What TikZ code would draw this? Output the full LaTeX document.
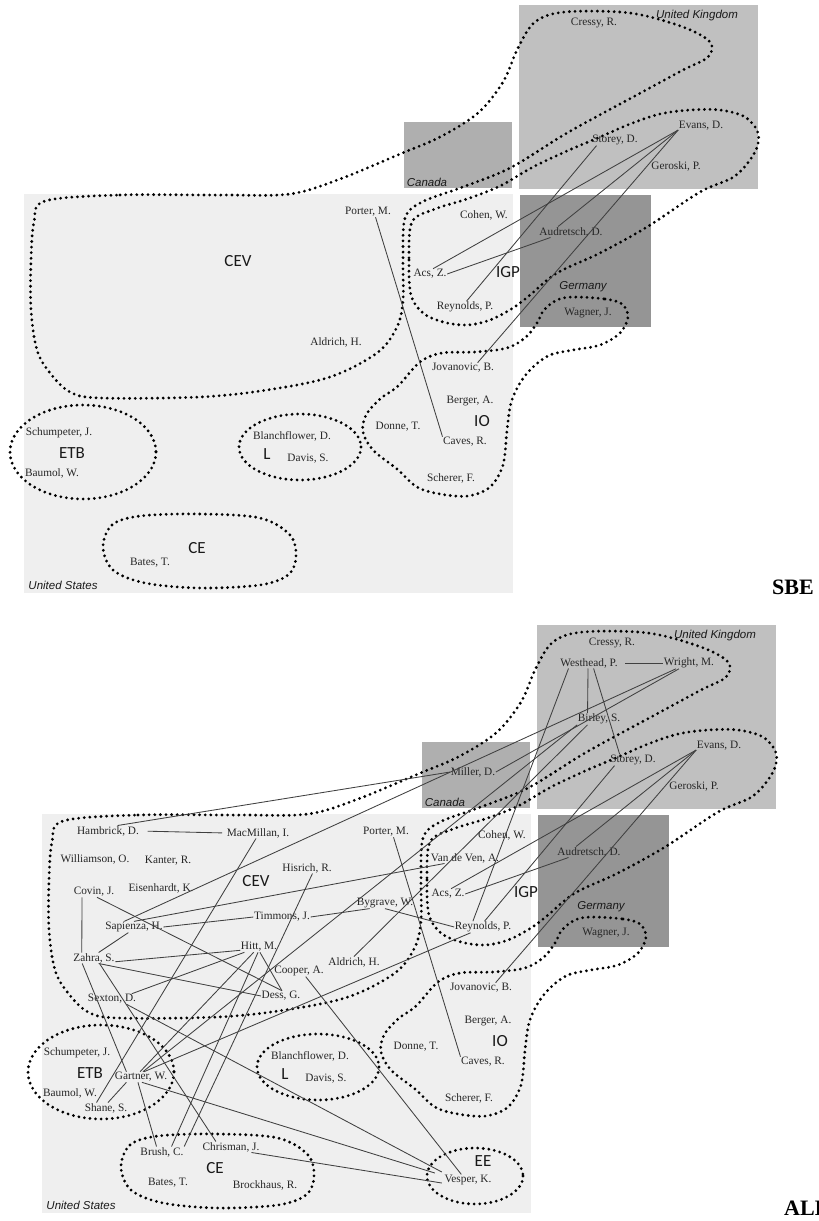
\documentclass[tikz,border=0pt]{standalone}
\usepackage{fontspec}
\setmainfont{Liberation Serif}
\newfontfamily\grpfont{Carlito}
\newfontfamily\ctryfont{Liberation Sans}
\usepackage{xcolor}
\usepackage{tikz}
\usetikzlibrary{calc}

\definecolor{usgray}{HTML}{EFEFEF}
\definecolor{cagray}{HTML}{AFAFAF}
\definecolor{ukgray}{HTML}{C0C0C0}
\definecolor{degray}{HTML}{959595}

\begin{document}
\begin{tikzpicture}[
  x=1pt, y=-1pt,
  author/.style={font=\fontsize{11.3}{12}\selectfont, inner sep=0.5pt, text=black!85},
  grp/.style={font=\grpfont\fontsize{17}{18}\selectfont, inner sep=0pt, text=black!90},
  country/.style={font=\ctryfont\itshape\fontsize{11.5}{12}\selectfont, inner sep=0pt, text=black!90},
  hull/.style={line width=3.1pt, line cap=round, dash pattern=on 0pt off 5.6pt},
  tie/.style={draw=black!75, line width=0.85pt},
  panel/.style={font=\bfseries\fontsize{22}{24}\selectfont, inner sep=0pt}
]
  \useasboundingbox (0,0) rectangle (819,1221);

  % both panels: map, clusters, shared authors and links
  \foreach \p/\dx/\dy in {s/0/0, a/18/620}{
  \begin{scope}[shift={(\dx,\dy)}]
    % countries
    \fill[usgray] (24,194) rectangle (513,593);
    \fill[cagray] (404,122) rectangle (512,188);
    \fill[ukgray] (519,5) rectangle (758,189);
    \fill[degray] (520,195) rectangle (651,327);
    \node[country] (\p-uk) at (697,16) {United Kingdom};
    \node[country] (\p-ca) at (427,182) {Canada};
    \node[country] (\p-de) at (583,287) {Germany};
    \node[country] (\p-us) at (63,585) {United States};

    % clusters
    \draw[hull] plot[smooth cycle, tension=0.55] coordinates {
      (45,201) (120,195) (220,195) (290,194) (340,179) (400,154) (440,137)
      (478,113) (503,82) (518,48) (535,22) (565,12) (630,13) (683,27)
      (710,42) (708,57) (683,70) (633,97) (567,133) (510,168) (460,188)
      (422,202) (405,218) (403,260) (403,300) (397,327) (377,353) (330,377)
      (267,390) (200,397) (100,398) (70,392) (50,373) (37,350) (31,310)
      (31,260) (34,222)};
    \draw[hull] plot[smooth cycle, tension=0.55] coordinates {
      (412,222) (409,260) (411,295) (423,313) (443,322) (467,325) (490,320)
      (513,308) (530,295) (557,273) (600,253) (647,227) (700,192) (735,176)
      (755,152) (758,133) (745,117) (720,110) (690,110) (660,114) (630,124)
      (600,137) (567,151) (533,167) (500,186) (467,199) (435,209)};
    \draw[hull] plot[smooth cycle, tension=0.55] coordinates {
      (573,297) (605,299) (622,304) (628,317) (620,333) (600,345) (573,350)
      (550,355) (533,367) (520,383) (511,403) (507,430) (503,465) (490,487)
      (468,496) (440,494) (417,487) (397,469) (373,450) (363,432) (366,415)
      (380,399) (398,386) (420,362) (442,353) (475,352) (507,348) (526,337)
      (537,323) (544,310) (557,300)};
    \draw[hull] (83,452) ellipse [x radius=73, y radius=47];
    \draw[hull] (300,447) ellipse [x radius=61, y radius=33];
    \draw[hull] plot[smooth cycle, tension=0.55] coordinates {
      (103,547) (112,525) (140,516) (200,514) (260,518) (290,535) (296,557)
      (288,575) (260,585) (200,588) (145,583) (113,570)};

    \node[grp] (\p-cev) at (238,261) {CEV};
    \node[grp] (\p-igp) at (508,272) {IGP};
    \node[grp] (\p-etb) at (72,453) {ETB};
    \node[grp] (\p-l) at (267,454) {L};
    \node[grp] (\p-ce) at (197,548) {CE};
    \node[grp] (\p-io) at (482,421) {IO};

    % authors
    \node[author] (\p-cressy) at (594,23) {Cressy, R.};
    \node[author] (\p-evans) at (701,126) {Evans, D.};
    \node[author] (\p-storey) at (615,140) {Storey, D.};
    \node[author] (\p-geroski) at (676,166) {Geroski, P.};
    \node[author] (\p-cohen) at (484,215) {Cohen, W.};
    \node[author] (\p-audretsch) at (571,232) {Audretsch, D.};
    \node[author] (\p-acs) at (430,274) {Acs, Z.};
    \node[author] (\p-porter) at (368,212) {Porter, M.};
    \node[author] (\p-reynolds) at (465,307) {Reynolds, P.};
    \node[author] (\p-wagner) at (588,313) {Wagner, J.};
    \node[author] (\p-aldrich) at (336,342) {Aldrich, H.};
    \node[author] (\p-jovanovic) at (463,368) {Jovanovic, B.};
    \node[author] (\p-berger) at (470,401) {Berger, A.};
    \node[author] (\p-donne) at (398,427) {Donne, T.};
    \node[author] (\p-caves) at (465,442) {Caves, R.};
    \node[author] (\p-scherer) at (451,478) {Scherer, F.};
    \node[author] (\p-schumpeter) at (59,433) {Schumpeter, J.};
    \node[author] (\p-baumol) at (52,473) {Baumol, W.};
    \node[author] (\p-blanchflower) at (292,436) {Blanchflower, D.};
    \node[author] (\p-davis) at (308,459) {Davis, S.};
    \node[author] (\p-bates) at (150,563) {Bates, T.};

    % links
    \draw[tie] (\p-porter.-35) -- (\p-caves.north west);
    \draw[tie] (\p-storey.197) -- (\p-reynolds.75);
    \draw[tie] (\p-evans.190) -- (\p-acs.60);
    \draw[tie] (\p-evans.190) -- (\p-audretsch.157);
    \draw[tie] (\p-evans.190) -- (\p-jovanovic.20);
    \draw[tie] (\p-audretsch.195) -- (\p-acs.east);
  \end{scope}
  }

  % ALL panel: extra cluster
  \draw[hull] (475,1176) ellipse [x radius=48, y radius=28];
  \node[grp] (ee) at (483,1161) {EE};

  % ALL panel: extra authors
  \node[author] (a-westhead) at (589,663) {Westhead, P.};
  \node[author] (a-wright) at (689,663) {Wright, M.};
  \node[author] (a-birley) at (599,719) {Birley, S.};
  \node[author] (a-miller) at (473,772) {Miller, D.};
  \node[author] (a-vandeven) at (465,858) {Van de Ven, A.};
  \node[author] (a-hambrick) at (108,831) {Hambrick, D.};
  \node[author] (a-macmillan) at (258,833) {MacMillan, I.};
  \node[author] (a-williamson) at (95,859) {Williamson, O.};
  \node[author] (a-kanter) at (168,861) {Kanter, R.};
  \node[author] (a-hisrich) at (307,868) {Hisrich, R.};
  \node[author] (a-covin) at (94,892) {Covin, J.};
  \node[author] (a-eisenhardt) at (161,888) {Eisenhardt, K.};
  \node[author] (a-bygrave) at (385,903) {Bygrave, W.};
  \node[author] (a-timmons) at (282,917) {Timmons, J.};
  \node[author] (a-sapienza) at (134,927) {Sapienza, H.};
  \node[author] (a-hitt) at (259,947) {Hitt, M.};
  \node[author] (a-zahra) at (94,958) {Zahra, S.};
  \node[author] (a-cooper) at (299,971) {Cooper, A.};
  \node[author] (a-sexton) at (112,999) {Sexton, D.};
  \node[author] (a-dess) at (281,996) {Dess, G.};
  \node[author] (a-gartner) at (141,1077) {Gartner, W.};
  \node[author] (a-shane) at (106,1108) {Shane, S.};
  \node[author] (a-brush) at (162,1152) {Brush, C.};
  \node[author] (a-chrisman) at (231,1147) {Chrisman, J.};
  \node[author] (a-brockhaus) at (265,1185) {Brockhaus, R.};
  \node[author] (a-vesper) at (468,1180) {Vesper, K.};

  % ALL panel: extra links
  \draw[tie] (a-hambrick.30) -- (a-miller.west);
  \draw[tie, shorten <=8pt, shorten >=4pt] (a-hambrick.east) -- (a-macmillan.west);
  \draw[tie] (a-macmillan.250) -- (a-shane.150);
  \draw[tie] ($(a-covin.south west)+(9,0)$) -- ($(a-zahra.north west)+(9,0)$);
  \draw[tie] (a-covin.-60) -- (a-dess.80);
  \draw[tie] (a-sapienza.-135) -- (a-zahra.50);
  \draw[tie] (a-sapienza.east) -- (a-timmons.west);
  \draw[tie] (a-sapienza.north) -- (a-vandeven.195);
  \draw[tie] (a-wright.204) -- (a-sapienza.150);
  \draw[tie] (a-wright.210) -- (a-miller.east);
  \draw[tie, shorten <=7pt] (a-westhead.east) -- (a-wright.west);
  \draw[tie] (a-westhead.-100) -- (a-birley.153);
  \draw[tie] (a-westhead.-50) -- (a-storey.157);
  \draw[tie] (a-westhead.195) -- (a-reynolds.150);
  \draw[tie] (a-birley.195) -- (a-gartner.70);
  \draw[tie] (a-birley.207) -- (a-aldrich.north);
  \draw[tie] (a-gartner.100) -- (a-hitt.-135);
  \draw[tie] (a-gartner.60) -- (a-reynolds.205);
  \draw[tie] (a-zahra.205) -- (a-gartner.160);
  \draw[tie] (a-gartner.-120) -- (a-brush.135);
  \draw[tie] (a-shane.70) -- (a-gartner.200);
  \draw[tie] (a-gartner.-80) -- ($(a-vesper.west)+(-9,-7)$);
  \draw[tie] (a-sexton.-20) -- ($(a-vesper.west)+(-2,-8)$);
  \draw[tie] (a-chrisman.-15) -- ($(a-vesper.west)+(-2,3)$);
  \draw[tie] (a-cooper.-40) -- (a-vesper.140);
  \draw[tie] (a-sexton.15) -- (a-hitt.200);
  \draw[tie] (a-zahra.-10) -- (a-hitt.-170);
  \draw[tie] (a-zahra.-50) -- (a-dess.west);
  \draw[tie] (a-zahra.-45) -- (a-chrisman.160);
  \draw[tie] (a-hitt.-80) -- (a-dess.80);
  \draw[tie] (a-hitt.-100) -- (a-brush.30);
  \draw[tie] (a-hisrich.-45) -- (a-brush.north east);
  \draw[tie] (a-timmons.east) -- (a-bygrave.200);
  \draw[tie] (a-bygrave.south) -- (a-reynolds.west);

  % panel tags
  \node[panel] (sbe) at (793,587) {SBE};
  \node[panel, anchor=west] (all) at (784,1208) {ALL};
\end{tikzpicture}
\end{document}
